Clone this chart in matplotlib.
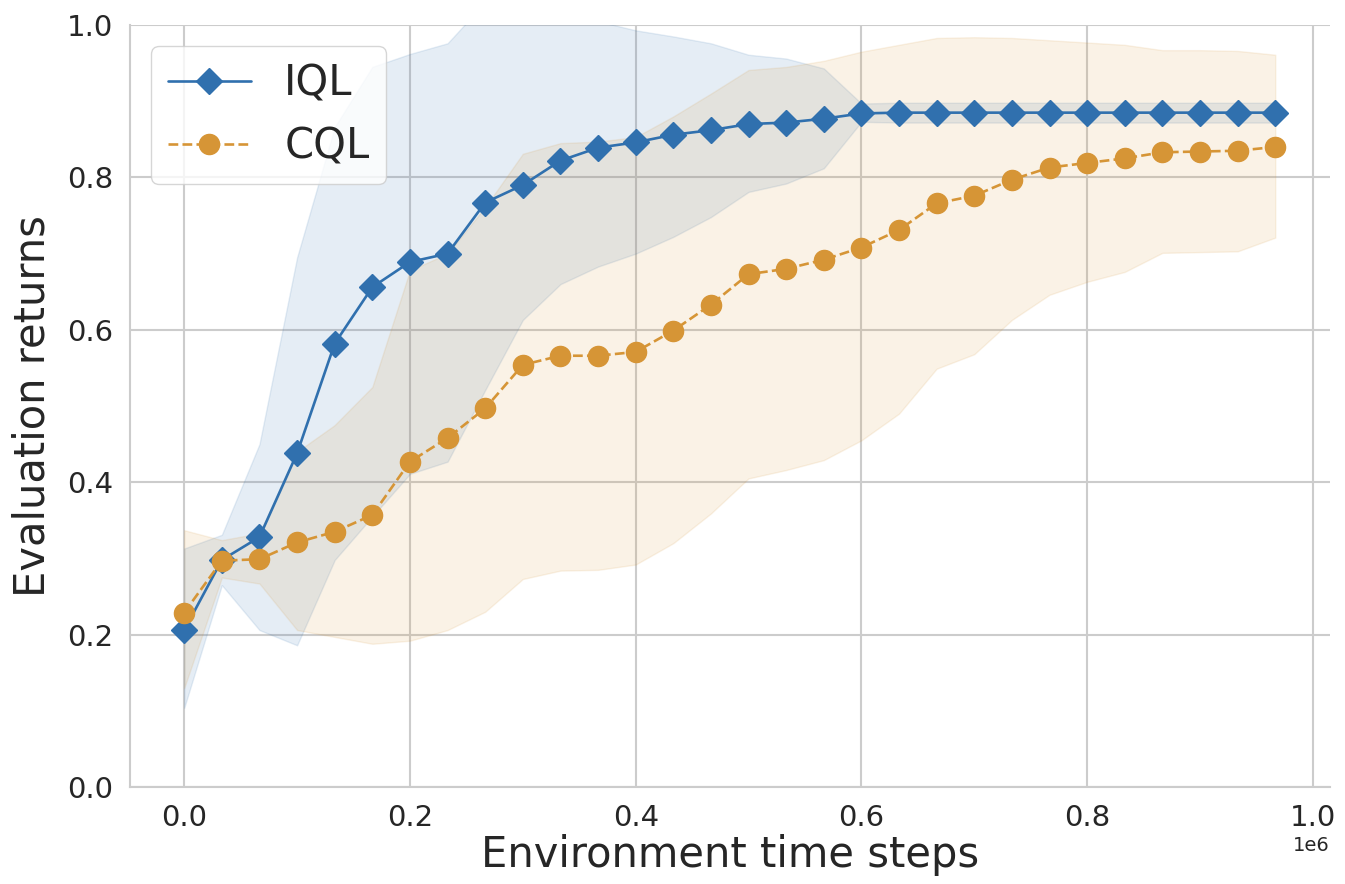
import matplotlib
matplotlib.use("Agg")
import matplotlib.pyplot as plt
import seaborn as sns

# ---- data ----
steps = [0, 33333, 66667, 100000, 133333, 166667, 200000, 233333, 266667, 300000,
         333333, 366667, 400000, 433333, 466667, 500000, 533333, 566667, 600000, 633333,
         666667, 700000, 733333, 766667, 800000, 833333, 866667, 900000, 933333, 966667]

iql_mean = [0.206, 0.298, 0.328, 0.438, 0.582, 0.656, 0.689, 0.700, 0.767, 0.790,
            0.822, 0.839, 0.846, 0.856, 0.862, 0.870, 0.872, 0.877, 0.884, 0.885,
            0.885, 0.885, 0.885, 0.885, 0.885, 0.885, 0.885, 0.885, 0.885, 0.885]
iql_upper = [0.313, 0.331, 0.450, 0.695, 0.866, 0.945, 0.962, 0.976, 1.030, 1.050,
             1.030, 1.005, 0.993, 0.985, 0.976, 0.961, 0.956, 0.943, 0.897, 0.898,
             0.898, 0.898, 0.898, 0.898, 0.898, 0.898, 0.898, 0.898, 0.898, 0.898]
iql_lower = [0.104, 0.265, 0.206, 0.186, 0.298, 0.355, 0.411, 0.427, 0.521, 0.613,
             0.660, 0.683, 0.700, 0.722, 0.748, 0.781, 0.792, 0.812, 0.873, 0.872,
             0.872, 0.872, 0.872, 0.872, 0.872, 0.872, 0.872, 0.872, 0.872, 0.872]

cql_mean = [0.229, 0.297, 0.299, 0.321, 0.335, 0.357, 0.427, 0.458, 0.497, 0.554,
            0.566, 0.566, 0.571, 0.599, 0.633, 0.673, 0.680, 0.692, 0.708, 0.731,
            0.766, 0.776, 0.797, 0.813, 0.819, 0.825, 0.833, 0.834, 0.835, 0.840]
cql_upper = [0.337, 0.324, 0.333, 0.440, 0.475, 0.525, 0.678, 0.700, 0.761, 0.831,
             0.845, 0.847, 0.853, 0.880, 0.910, 0.941, 0.945, 0.953, 0.965, 0.974,
             0.983, 0.984, 0.983, 0.980, 0.977, 0.974, 0.967, 0.967, 0.966, 0.961]
cql_lower = [0.130, 0.275, 0.267, 0.206, 0.197, 0.188, 0.192, 0.206, 0.230, 0.273,
             0.284, 0.285, 0.292, 0.320, 0.359, 0.405, 0.416, 0.429, 0.455, 0.490,
             0.549, 0.568, 0.613, 0.646, 0.663, 0.676, 0.701, 0.702, 0.703, 0.721]

labels = ["IQL", "CQL"]
x_label = "Environment time steps"
y_label = "Evaluation returns"

# ---- style ----
sns.set_style("whitegrid")
plt.rcParams['font.family'] = ['DejaVu Sans']

blue = "#3070AE"
orange = "#D69536"

fig = plt.figure(figsize=(13.45, 8.84), dpi=100)
ax = fig.add_axes([0.0967, 0.1097, 0.892, 0.862])

ax.fill_between(steps, iql_lower, iql_upper, color=blue, alpha=0.12, linewidth=1)
ax.fill_between(steps, cql_lower, cql_upper, color=orange, alpha=0.12, linewidth=1)

ax.plot(steps, iql_mean, color=blue, linestyle='-', linewidth=1.9,
        marker='D', markersize=13, label=labels[0])
ax.plot(steps, cql_mean, color=orange, linestyle='--', linewidth=1.9,
        marker='o', markersize=14.5, label=labels[1])

ax.set_ylim(0, 1.0)
ax.set_xlim(-48000, 1015000)
ax.set_xticks([0, 200000, 400000, 600000, 800000, 1000000])
ax.set_yticks([0.0, 0.2, 0.4, 0.6, 0.8, 1.0])
ax.ticklabel_format(axis='x', style='sci', scilimits=(0, 0), useMathText=False)

ax.tick_params(axis='both', labelsize=21, colors='.15', length=0, pad=12)
ax.xaxis.get_offset_text().set_fontsize(14)
ax.xaxis.get_offset_text().set_color('.15')

ax.set_xlabel(x_label, fontsize=30, color='.15', labelpad=2)
ax.set_ylabel(y_label, fontsize=30, color='.15', labelpad=10)

for s in ['top', 'right']:
    ax.spines[s].set_visible(False)
for s in ['left', 'bottom']:
    ax.spines[s].set_color('.8')
    ax.spines[s].set_linewidth(1.5)
ax.grid(True, color='.8', linewidth=1.5)

leg = ax.legend(loc='upper left', fontsize=30, frameon=True, fancybox=True,
                framealpha=0.8, borderaxespad=0.5)
leg.get_frame().set_edgecolor('.8')

fig.savefig("out.png", dpi=100)
